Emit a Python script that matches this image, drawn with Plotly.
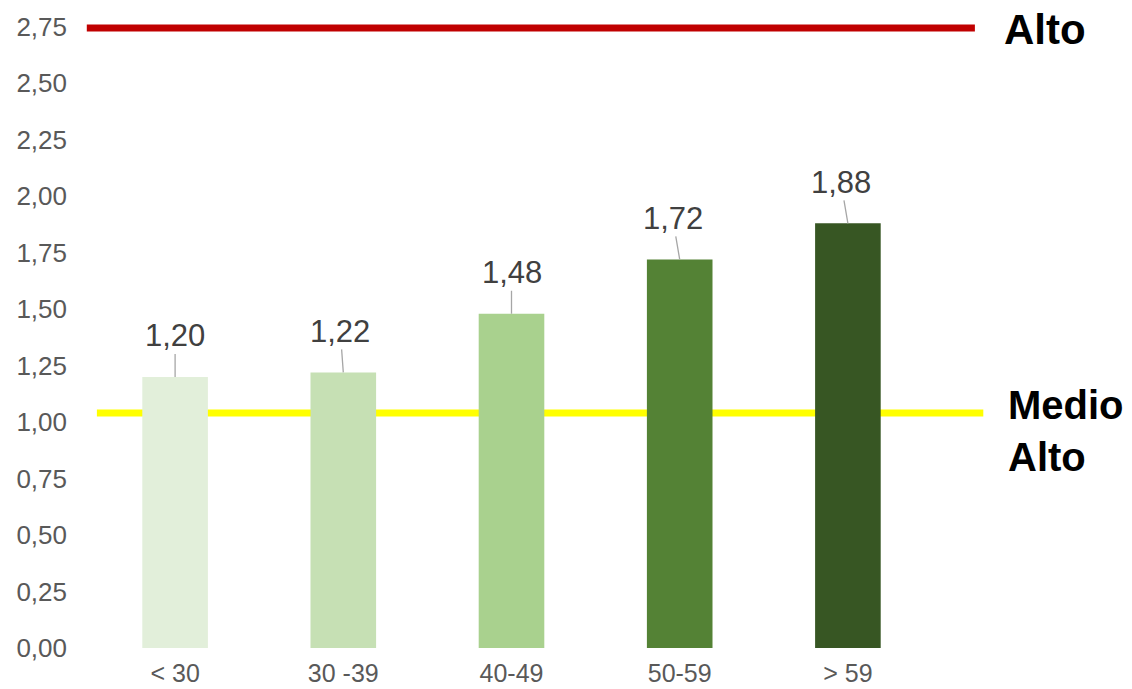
import plotly.graph_objects as go

categories = ["< 30", "30 -39", "40-49", "50-59", "> 59"]
values = [1.20, 1.22, 1.48, 1.72, 1.88]
threshold_names = ["Alto", "Medio<br>Alto"]
threshold_values = [2.745, 1.04]
tick_values = [0, 0.25, 0.5, 0.75, 1.0, 1.25, 1.5, 1.75, 2.0, 2.25, 2.5, 2.75]

bar_colors = ["#E2EFDA", "#C6E0B4", "#A9D18E", "#548235", "#375623"]
label_dx = [0, -3, 0, -7, -7]

FONT = "Liberation Sans, Arial"

def fmt(v):
    return f"{v:.2f}".replace(".", ",")

fig = go.Figure()
fig.add_trace(go.Bar(
    x=categories, y=values, marker=dict(color=bar_colors, line=dict(width=0)),
    width=0.39, hoverinfo="skip", showlegend=False,
))

# threshold lines
fig.add_shape(type="line", xref="paper", yref="y", x0=-0.005, x1=1.051,
              y0=threshold_values[0], y1=threshold_values[0],
              line=dict(color="#C00000", width=7), layer="above")
fig.add_shape(type="line", xref="paper", yref="y", x0=0.007, x1=1.061,
              y0=threshold_values[1], y1=threshold_values[1],
              line=dict(color="#FFFF00", width=7), layer="below")

fig.add_annotation(x=1.083, y=threshold_values[0] - 0.005, xref="paper", yref="y",
                   text="<b>" + threshold_names[0] + "</b>",
                   showarrow=False, xanchor="left", yanchor="middle",
                   font=dict(family=FONT, size=42, color="#000000"))
fig.add_annotation(x=1.088, y=threshold_values[1] - 0.08, xref="paper", yref="y",
                   text="<b>" + threshold_names[1] + "</b>",
                   showarrow=False, xanchor="left", yanchor="middle", align="left",
                   font=dict(family=FONT, size=40, color="#000000"))

for i, (c, v) in enumerate(zip(categories, values)):
    fig.add_annotation(x=c, y=v, xref="x", yref="y", text=fmt(v),
                       showarrow=True, arrowhead=0, arrowwidth=1.3, arrowcolor="#A6A6A6",
                       ax=label_dx[i], ay=-41, standoff=0, startstandoff=0,
                       font=dict(family=FONT, size=31, color="#404040"),
                       borderpad=0)

fig.update_layout(
    width=1132, height=689,
    margin=dict(l=91, r=200, t=20, b=41),
    plot_bgcolor="white", paper_bgcolor="white",
    xaxis=dict(range=[-0.5, 4.5], showgrid=False, showline=False, zeroline=False, ticks="",
               tickfont=dict(family=FONT, size=25, color="#595959"),
               ticklabelstandoff=8, automargin=False),
    yaxis=dict(range=[0, 2.78], tickvals=tick_values, ticktext=[fmt(t) for t in tick_values],
               showgrid=False, showline=False, zeroline=False, ticks="",
               tickfont=dict(family=FONT, size=26, color="#595959"),
               ticklabelstandoff=23, automargin=False),
)

fig.write_html("out.html", config={"displayModeBar": False},
               post_script="document.body.style.margin='0px';document.body.style.overflow='hidden';")
